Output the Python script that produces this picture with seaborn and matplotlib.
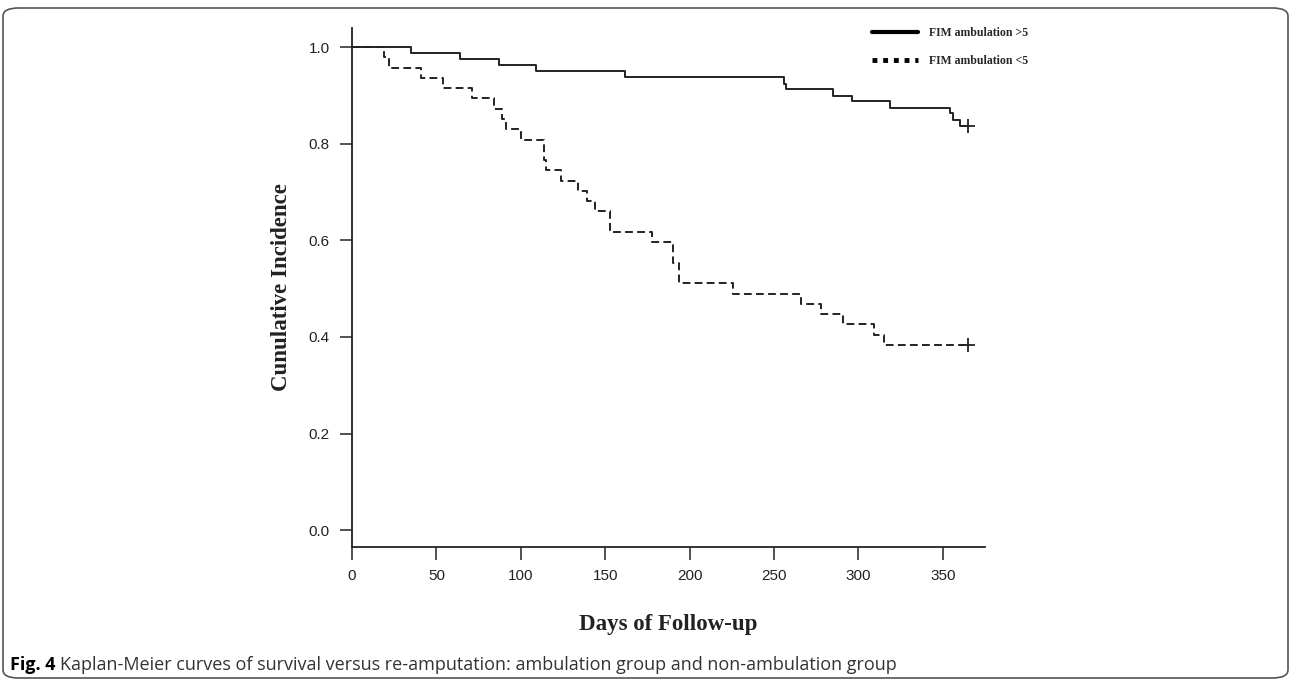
"""
Kaplan-Meier curves: ambulation vs non-ambulation group (re-amputation)
"""

import numpy as np
import pandas as pd
import seaborn as sns
import matplotlib.pyplot as plt
from matplotlib.lines import Line2D
from matplotlib.patches import FancyBboxPatch

# step curves
amb_days = [0, 35, 64, 87, 109, 162, 256, 257, 285, 296, 319, 354, 356, 360, 365]
amb_surv = [1.0, 0.988, 0.975, 0.963, 0.950, 0.938, 0.925, 0.913, 0.900,
            0.888, 0.875, 0.863, 0.850, 0.838, 0.838]

non_days = [0, 19, 22, 41, 54, 71, 84, 89, 91, 100, 114, 115, 124, 134, 139,
            144, 153, 178, 190, 194, 226, 266, 278, 291, 309, 315, 365]
non_surv = [1.0, 0.979, 0.957, 0.936, 0.915, 0.894, 0.872, 0.851, 0.830, 0.809,
            0.766, 0.745, 0.723, 0.702, 0.681, 0.660, 0.617, 0.596, 0.553, 0.511,
            0.489, 0.468, 0.447, 0.426, 0.404, 0.383, 0.383]

# censored points (end of follow-up)
cens_days = [365, 365]
cens_surv = [0.838, 0.383]

groups = ['FIM ambulation >5', 'FIM ambulation <5']
x_ticks = [0, 50, 100, 150, 200, 250, 300, 350]
y_ticks = [0.0, 0.2, 0.4, 0.6, 0.8, 1.0]

caption_bold = 'Fig. 4'
caption_rest = ('Kaplan-Meier curves of survival versus re-amputation: '
                'ambulation group and non-ambulation group')


def main():
    sns.set_style('ticks')
    ink = '#222222'

    df = pd.DataFrame({
        'Group': [groups[0]] * len(amb_days) + [groups[1]] * len(non_days),
        'Days': amb_days + non_days,
        'Surv': amb_surv + non_surv,
    })

    fig = plt.figure(figsize=(12.92, 6.81), dpi=100)
    ax = fig.add_axes([352 / 1292, 134 / 681, 633 / 1292, 519 / 681])

    sns.lineplot(data=df[df['Group'] == groups[0]], x='Days', y='Surv',
                 drawstyle='steps-post', estimator=None, color=ink,
                 linewidth=1.4, ax=ax)
    sns.lineplot(data=df[df['Group'] == groups[1]], x='Days', y='Surv',
                 drawstyle='steps-post', estimator=None, color=ink,
                 linewidth=1.4, linestyle=(0, (4, 2.2)), ax=ax)
    sns.scatterplot(x=cens_days, y=cens_surv, marker='+', s=90,
                    color=ink, linewidth=1.3, ax=ax, zorder=5)

    ax.set_xlim(0, 375)
    ax.set_ylim(-0.035, 1.04)
    ax.set_xticks(x_ticks)
    ax.set_yticks(y_ticks)
    ax.set_yticklabels([f'{v:.1f}' for v in y_ticks])
    ax.tick_params(direction='out', length=9, width=1.1, color=ink,
                   labelsize=11, labelcolor=ink, pad=7)
    for lab in ax.get_xticklabels() + ax.get_yticklabels():
        lab.set_family('Liberation Sans')
    sns.despine(ax=ax)
    for sp in ['left', 'bottom']:
        ax.spines[sp].set_color(ink)
        ax.spines[sp].set_linewidth(1.3)

    ax.set_xlabel('Days of Follow-up', family='Liberation Serif',
                  fontweight='bold', fontsize=16.5, color=ink, labelpad=22)
    ax.set_ylabel('Cunulative Incidence', family='Liberation Serif',
                  fontweight='bold', fontsize=16.5, color=ink, labelpad=12)

    # legend in the top right corner, outside the axes
    handles = [Line2D([], [], color='black', linewidth=3),
               Line2D([], [], color='black', linewidth=3.5,
                      linestyle=(0, (1, 1.2)), dash_capstyle='butt')]
    fig.legend(handles, groups, loc='upper left',
               bbox_to_anchor=(866 / 1292, 1 - 21 / 681), frameon=False,
               prop={'family': 'Liberation Serif', 'weight': 'bold', 'size': 8.5},
               handlelength=3.9, handletextpad=0.9, labelspacing=1.4,
               borderpad=0)

    # caption
    t1 = fig.text(10 / 1292, 1 - 665 / 681, caption_bold, family='Open Sans',
                  fontweight='bold', fontsize=13, color='black', va='center')
    fig.canvas.draw()
    bb = t1.get_window_extent()
    fig.text((bb.x1 + 5) / 1292, 1 - 665 / 681, caption_rest,
             family='Open Sans', fontsize=13, color='#333333', va='center')

    # rounded frame around the figure
    frame = FancyBboxPatch((3 / 1292, 3 / 681), 1285 / 1292, 670 / 681,
                           boxstyle='round,pad=0,rounding_size=0.012',
                           transform=fig.transFigure, fill=False,
                           edgecolor='#555555', linewidth=1.2)
    fig.patches.append(frame)

    fig.savefig('out.png', dpi=100)


if __name__ == '__main__':
    main()
